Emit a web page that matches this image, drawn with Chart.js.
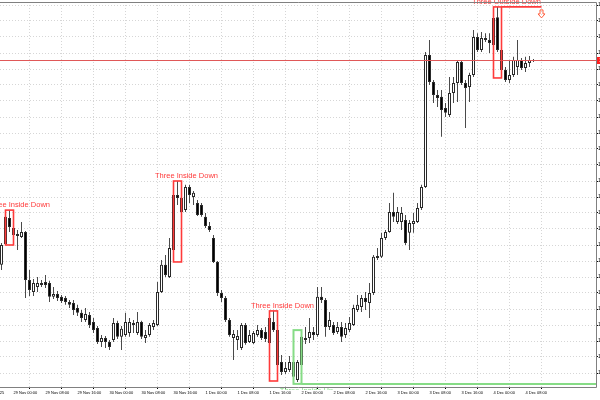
<!DOCTYPE html>
<html><head><meta charset="utf-8">
<script src="https://cdn.jsdelivr.net/npm/chart.js@4.4.1/dist/chart.umd.min.js"></script>
<style>
html,body{margin:0;padding:0;background:#fff;overflow:hidden}
#wrap{width:600px;height:400px;overflow:hidden;position:relative;background:#fff}
#c{position:absolute;left:0;top:0}
</style></head>
<body><div id="wrap"><canvas id="c" width="640" height="400"></canvas></div>
<script>
// H1 candles, index 0..133
const open=[1.15938,1.16003,1.16084,1.16053,1.16034,1.16025,1.16041,1.15891,1.15853,1.15869,
1.15875,1.15884,1.15881,1.15838,1.15847,1.15838,1.15834,1.15822,1.15819,1.15803,
1.15788,1.15766,1.15781,1.15759,1.15741,1.15697,1.15709,1.15697,1.15703,1.15756,
1.15713,1.15719,1.15725,1.15756,1.15725,1.15759,1.15709,1.15719,1.15744,1.15750,
1.15853,1.15938,1.15900,1.15984,1.16156,1.16147,1.16109,1.16181,1.16150,1.16131,
1.16125,1.16088,1.16059,1.16022,1.15947,1.15850,1.15834,1.15766,1.15709,1.15703,
1.15678,1.15750,1.15697,1.15694,1.15719,1.15734,1.15728,1.15694,1.15759,1.15734,
1.15634,1.15603,1.15609,1.15634,1.15578,1.15625,1.15703,1.15709,1.15728,1.15719,
1.15838,1.15828,1.15744,1.15750,1.15728,1.15744,1.15719,1.15734,1.15750,1.15797,
1.15806,1.15834,1.15819,1.15850,1.15959,1.15963,1.16022,1.16041,1.16103,1.16072,
1.16072,1.16078,1.16038,1.16066,1.16072,1.16116,1.16181,1.16594,1.16509,1.16469,
1.16463,1.16428,1.16406,1.16475,1.16506,1.16572,1.16506,1.16494,1.16531,1.16650,
1.16609,1.16647,1.16641,1.16625,1.16712,1.16609,1.16547,1.16516,1.16531,1.16556,
1.16578,1.16553,1.16569,1.16575];
const high=[1.16006,1.16094,1.16109,1.16059,1.16047,1.16072,1.16044,1.15922,1.15894,1.15900,
1.15891,1.15906,1.15888,1.15869,1.15856,1.15844,1.15841,1.15828,1.15828,1.15813,
1.15797,1.15803,1.15791,1.15772,1.15747,1.15719,1.15716,1.15703,1.15772,1.15763,
1.15747,1.15788,1.15772,1.15766,1.15791,1.15763,1.15734,1.15756,1.15766,1.15884,
1.15953,1.15969,1.16022,1.16172,1.16200,1.16150,1.16188,1.16188,1.16169,1.16141,
1.16131,1.16100,1.16072,1.16031,1.15950,1.15859,1.15841,1.15772,1.15734,1.15734,
1.15756,1.15756,1.15734,1.15731,1.15750,1.15741,1.15744,1.15784,1.15794,1.15741,
1.15656,1.15634,1.15653,1.15647,1.15641,1.15734,1.15744,1.15772,1.15744,1.15869,
1.15869,1.15834,1.15791,1.15759,1.15759,1.15759,1.15756,1.15775,1.15813,1.15844,
1.15844,1.15853,1.15881,1.15969,1.15991,1.16038,1.16047,1.16131,1.16163,1.16119,
1.16119,1.16094,1.16078,1.16100,1.16131,1.16188,1.16603,1.16641,1.16516,1.16484,
1.16484,1.16444,1.16525,1.16525,1.16578,1.16578,1.16516,1.16538,1.16672,1.16662,
1.16666,1.16662,1.16662,1.16741,1.16744,1.16616,1.16556,1.16578,1.16588,1.16641,
1.16584,1.16588,1.16591,1.16581];
const low=[1.15922,1.16000,1.16041,1.16009,1.15984,1.16022,1.15834,1.15841,1.15841,1.15853,
1.15869,1.15866,1.15822,1.15831,1.15825,1.15819,1.15813,1.15803,1.15781,1.15778,
1.15759,1.15759,1.15741,1.15725,1.15691,1.15681,1.15678,1.15672,1.15697,1.15706,
1.15672,1.15713,1.15713,1.15725,1.15719,1.15706,1.15694,1.15713,1.15734,1.15747,
1.15850,1.15900,1.15897,1.15947,1.16125,1.16056,1.16103,1.16131,1.16125,1.16091,
1.16088,1.16053,1.16041,1.15944,1.15841,1.15822,1.15759,1.15713,1.15641,1.15672,
1.15672,1.15688,1.15694,1.15691,1.15713,1.15703,1.15697,1.15688,1.15728,1.15575,
1.15594,1.15597,1.15603,1.15566,1.15572,1.15619,1.15691,1.15694,1.15703,1.15713,
1.15819,1.15713,1.15734,1.15719,1.15722,1.15697,1.15709,1.15728,1.15747,1.15791,
1.15791,1.15797,1.15772,1.15844,1.15953,1.15959,1.16016,1.16038,1.16072,1.16066,
1.16047,1.16000,1.15984,1.16038,1.16069,1.16109,1.16178,1.16500,1.16444,1.16431,
1.16338,1.16400,1.16400,1.16444,1.16447,1.16500,1.16366,1.16447,1.16525,1.16603,
1.16603,1.16634,1.16600,1.16619,1.16603,1.16522,1.16509,1.16506,1.16525,1.16531,
1.16547,1.16541,1.16556,1.16572];
const close=[1.16000,1.16088,1.16056,1.16031,1.16028,1.16041,1.15891,1.15859,1.15881,1.15881,
1.15881,1.15875,1.15838,1.15847,1.15834,1.15825,1.15822,1.15813,1.15797,1.15788,
1.15772,1.15784,1.15750,1.15734,1.15697,1.15709,1.15697,1.15681,1.15756,1.15713,
1.15738,1.15759,1.15759,1.15750,1.15759,1.15713,1.15719,1.15750,1.15756,1.15853,
1.15938,1.15906,1.15991,1.16156,1.16147,1.16103,1.16181,1.16156,1.16163,1.16094,
1.16094,1.16059,1.16047,1.15947,1.15850,1.15834,1.15766,1.15719,1.15722,1.15716,
1.15750,1.15694,1.15719,1.15725,1.15734,1.15709,1.15706,1.15772,1.15734,1.15625,
1.15603,1.15616,1.15634,1.15588,1.15634,1.15713,1.15709,1.15728,1.15719,1.15838,
1.15828,1.15744,1.15766,1.15725,1.15744,1.15713,1.15741,1.15756,1.15803,1.15813,
1.15834,1.15822,1.15850,1.15963,1.15966,1.16022,1.16041,1.16103,1.16088,1.16103,
1.16100,1.16006,1.16069,1.16075,1.16116,1.16181,1.16594,1.16509,1.16469,1.16459,
1.16422,1.16413,1.16475,1.16506,1.16572,1.16506,1.16491,1.16531,1.16650,1.16609,
1.16647,1.16641,1.16631,1.16709,1.16609,1.16547,1.16516,1.16531,1.16578,1.16578,
1.16553,1.16569,1.16578,1.16578];

const xTickIndex=[-5,3,11,19,27,35,43,51,59,67,75,83,91,99,107,115,123,131];
const xTickLabels=["28 Nov 2025","29 Nov 00:00","29 Nov 08:00","29 Nov 16:00","30 Nov 00:00","30 Nov 08:00","30 Nov 16:00",
"1 Dec 00:00","1 Dec 08:00","1 Dec 16:00","2 Dec 00:00","2 Dec 08:00","2 Dec 16:00","3 Dec 00:00","3 Dec 08:00",
"3 Dec 16:00","4 Dec 00:00","4 Dec 08:00"];
const yTickValues=[1.1560,1.1565,1.1570,1.1575,1.1580,1.1585,1.1590,1.1595,1.1600,1.1605,1.1610,1.1615,
1.1620,1.1625,1.1630,1.1635,1.1640,1.1645,1.1650,1.1655,1.1660,1.1665,1.1670,1.1675];

const patternNames=["Three Inside Down","Three Inside Down","Three Inside Down","Three Inside Up","Three Outside Down"];
const patternStart=[1,43,67,73,123];
const patternDir=["down","down","down","up","down"];

const bodies=open.map((o,i)=>({x:i,y:[o,close[i]]}));
const wicks=high.map((h,i)=>({x:i,y:[low[i],h]}));
const bodyFill=open.map((o,i)=>close[i]>=o?'#ffffff':'#000000');

const RED='#ff3a3a', GREEN='#86dc86';

const annotate={
  id:'annotate',
  afterDatasetsDraw(chart){
    const {ctx,chartArea:a,scales:{x,y}}=chart;
    ctx.save();
    // current price line
    const last=close[close.length-1];
    const py=Math.round(y.getPixelForValue(last))+0.5;
    ctx.strokeStyle='#e05858';ctx.lineWidth=1;
    ctx.beginPath();ctx.moveTo(a.left,py);ctx.lineTo(a.right,py);ctx.stroke();
    // patterns
    patternStart.forEach((s,k)=>{
      const e=s+2;
      const hi=Math.max(...high.slice(s,e+1)), lo=Math.min(...low.slice(s,e+1));
      const x0=x.getPixelForValue(s), x1=x.getPixelForValue(e);
      const y0=y.getPixelForValue(hi), y1=y.getPixelForValue(lo);
      const up=patternDir[k]==='up';
      const col=up?GREEN:RED;
      ctx.strokeStyle=col;ctx.lineWidth=up?2:1.6;
      ctx.strokeRect(x0,y0,x1-x0,y1-y0);
      const tx=(x0+x1)/2+9;
      ctx.font='7.5px "Liberation Sans", Arial, sans-serif';
      ctx.fillStyle=col;ctx.textAlign='center';
      if(up){
        // extension of the low line to the right edge
        ctx.beginPath();ctx.moveTo(x1,y1);ctx.lineTo(a.right,y1);ctx.stroke();
        ctx.save();ctx.beginPath();ctx.rect(0,0,a.right,a.bottom+3);ctx.clip();
        ctx.textBaseline='top';ctx.fillText(patternNames[k],tx,y1+3);
        ctx.restore();
      }else{
        ctx.textBaseline='bottom';ctx.fillText(patternNames[k],tx,y0-1);
        if(patternNames[k]==='Three Outside Down'){
          const xe=x.getPixelForValue(e+10);
          ctx.beginPath();ctx.moveTo(x1,y0);ctx.lineTo(xe,y0);ctx.stroke();
          // hollow down arrow
          ctx.lineWidth=1;ctx.strokeStyle='#ff6040';
          const ay=y0+3;
          ctx.beginPath();
          ctx.moveTo(xe-1.5,ay);ctx.lineTo(xe+1.5,ay);ctx.lineTo(xe+1.5,ay+4);
          ctx.lineTo(xe+3.5,ay+4);ctx.lineTo(xe,ay+8);ctx.lineTo(xe-3.5,ay+4);
          ctx.lineTo(xe-1.5,ay+4);ctx.closePath();ctx.stroke();
        }
      }
    });
    ctx.restore();
  },
  afterDraw(chart){
    const {ctx,chartArea:a,scales:{y}}=chart;
    ctx.save();
    ctx.strokeStyle='#808080';ctx.lineWidth=1;
    ctx.beginPath();
    ctx.moveTo(a.left,a.top+0.5);ctx.lineTo(a.right+0.5,a.top+0.5);
    ctx.lineTo(a.right+0.5,a.bottom+0.5);ctx.lineTo(a.left,a.bottom+0.5);
    ctx.stroke();
    const last=close[close.length-1];
    const py=Math.round(y.getPixelForValue(last));
    ctx.fillStyle='#ff2020';ctx.fillRect(a.right+1,py-3,40,7);
    ctx.fillStyle='#fff';ctx.font='5px "Liberation Sans"';ctx.textBaseline='middle';ctx.textAlign='left';
    ctx.fillText(last.toFixed(5),a.right+3,py+0.5);
    ctx.restore();
  }
};

new Chart(document.getElementById('c'),{
  type:'bar',
  data:{datasets:[
    {data:bodies,barThickness:3,grouped:false,backgroundColor:bodyFill,borderColor:'#2a2a2a',
     borderWidth:1,borderSkipped:false,inflateAmount:0},
    {data:wicks,barThickness:1,grouped:false,backgroundColor:'#4a4a4a',borderWidth:0,inflateAmount:0}
  ]},
  options:{
    responsive:false,devicePixelRatio:1,animation:false,events:[],
    layout:{padding:{top:2,left:0,right:0,bottom:0}},
    plugins:{legend:{display:false},tooltip:{enabled:false}},
    scales:{
      x:{type:'linear',min:-0.375,max:148.625,offset:false,
        afterBuildTicks:s=>{s.ticks=xTickIndex.map(v=>({value:v}));},
        afterFit:s=>{s.height=13;s.paddingLeft=0;s.paddingRight=0;},
        ticks:{autoSkip:false,maxRotation:0,minRotation:0,align:'start',padding:1,color:'#000',
          font:{family:'Liberation Sans',size:4},
          callback:(v,i)=>xTickLabels[i]},
        grid:{color:'#d6d6d6',tickLength:2,tickColor:'#000',tickBorderDash:[]},
        border:{display:false,dash:[1,2]}},
      y:{position:'right',min:1.1555625,max:1.16759375,
        afterBuildTicks:s=>{s.ticks=yTickValues.map(v=>({value:v}));},
        afterFit:s=>{s.width=44;s.paddingTop=0;s.paddingBottom=0;},
        ticks:{padding:0,color:'#000',font:{family:'Liberation Sans',size:5},callback:v=>v.toFixed(5)},
        grid:{color:'#d6d6d6',tickLength:2,tickColor:'#000',tickBorderDash:[]},
        border:{display:false,dash:[1,2]}}
    }
  },
  plugins:[annotate]
});
</script>
</body></html>
